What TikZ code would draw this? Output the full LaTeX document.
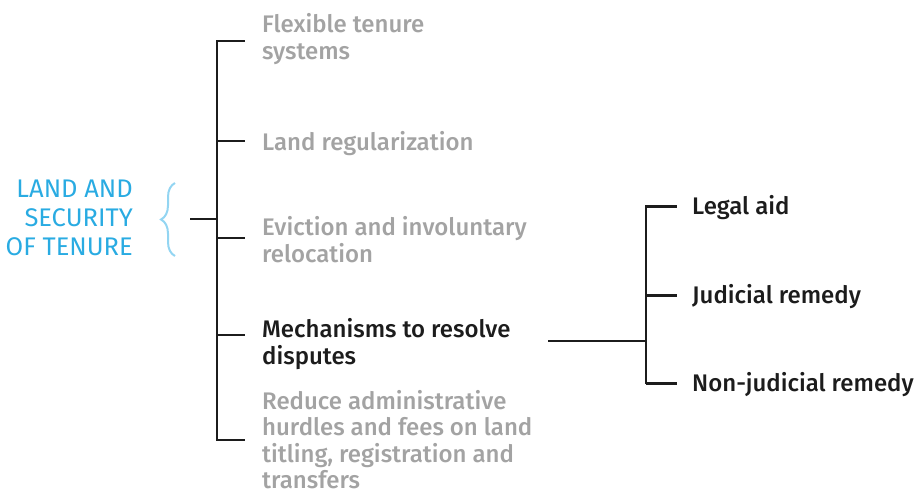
\documentclass[tikz,border=0pt]{standalone}
\usepackage{fontspec}
\setmainfont{Fira Sans}
\newfontfamily\medfont{Fira Sans Medium}
\usetikzlibrary{calc,decorations.pathreplacing}

\definecolor{tenureblue}{HTML}{29ABE2}
\definecolor{bracepale}{HTML}{93D5F2}
\definecolor{mutedgray}{HTML}{A3A3A3}
\definecolor{inkdark}{HTML}{1C1C1C}

\tikzset{
    item/.style={anchor=base west, align=left, inner sep=0pt,
        font=\medfont\fontsize{24}{26.5}\selectfont},
    muted/.style={item, text=mutedgray},
    active/.style={item, text=inkdark},
    branch/.style={line width=2.2pt, draw=inkdark},
}

\begin{document}
\begin{tikzpicture}[x=1pt,y=-1pt]
            \useasboundingbox (0,0) rectangle (918,490);

            % root label and brace (base = last line)
            \node (root) at (133,255.5) [anchor=base east, align=right, inner sep=0pt,
                text=tenureblue, font=\fontsize{25.5}{29.2}\selectfont]
                {LAND AND\\SECURITY\\OF TENURE};
            \draw [bracepale, line width=2pt, decorate,
                decoration={brace, amplitude=14pt}] (175,256) -- (175,183);

            % first level
            \coordinate (hub) at (190,219);
            \coordinate (top) at (217,41);
            \coordinate (bottom) at (217,440);
            \draw [branch] (hub) -- (hub -| top);
            \draw [branch, line cap=rect] (top) -- (bottom);

            \node (flex) at (262,59) [muted] {Flexible tenure\\systems};
            \node (regul) at (262,150.5) [muted] {Land regularization};
            \node (evict) at (262,262) [muted] {Eviction and involuntary\\relocation};
            \node (mech) at (262,364) [active] {Mechanisms to resolve\\disputes};
            \node (reduce) at (262,488.5) [muted] {Reduce administrative\\hurdles and fees on land\\titling, registration and\\transfers};

            \foreach \y in {41, 141, 238, 335, 440}
                {
                    \draw [branch] (217,\y) -- (245,\y);
                }

            % second level
            \coordinate (mechend) at (548,341);
            \coordinate (subtop) at (646,206);
            \coordinate (subbottom) at (646,383);
            \draw [branch] (mechend) -- (mechend -| subtop);
            \draw [branch, line cap=rect] (subtop) -- (subbottom);

            \node (legal) at (692,214.5) [active] {Legal aid};
            \node (judicial) at (692,303.5) [active] {Judicial remedy};
            \node (nonjud) at (692,391.5) [active] {Non-judicial remedy};

            \foreach \n in {legal, judicial, nonjud}
                {
                    \draw [branch] ($(\n.west -| subtop) + (0,-1)$) -- ($(\n.west) + (-15,-1)$);
                }

        \end{tikzpicture}
\end{document}
